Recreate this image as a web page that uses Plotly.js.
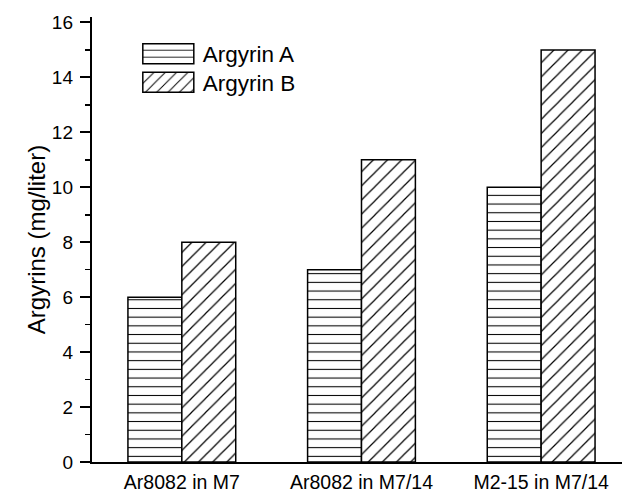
<!DOCTYPE html>
<html><head><meta charset="utf-8">
<script src="https://cdn.plot.ly/plotly-3.0.1.min.js"></script>
<style>html,body{margin:0;padding:0;background:#fff}</style>
</head><body>
<div id="chart" style="width:622px;height:492px"></div>
<script>
const categories = ["Ar8082 in M7", "Ar8082 in M7/14", "M2-15 in M7/14"];
const argyrinA = [6, 7, 10];
const argyrinB = [8, 11, 15];
const seriesNames = ["Argyrin A", "Argyrin B"];
const yTicks = [0, 2, 4, 6, 8, 10, 12, 14, 16];

const font = "Liberation Sans, Arial, Helvetica, sans-serif";
const traces = [
  {type: "bar", name: seriesNames[0], x: categories, y: argyrinA,
   marker: {color: "white", line: {color: "black", width: 1.5},
            pattern: {shape: "-", size: 8.7, solidity: 0.12, fgcolor: "black", bgcolor: "white", fillmode: "replace"}}},
  {type: "bar", name: seriesNames[1], x: categories, y: argyrinB,
   marker: {color: "white", line: {color: "black", width: 1.5},
            pattern: {shape: "/", size: 10, solidity: 0.12, fgcolor: "black", bgcolor: "white", fillmode: "replace"}}}
];
const layout = {
  width: 622, height: 492,
  margin: {l: 92, r: 0, t: 17, b: 30},
  paper_bgcolor: "white", plot_bgcolor: "white",
  font: {family: font, color: "black", size: 19},
  barmode: "group", bargap: 0.4, bargroupgap: 0,
  showlegend: true,
  legend: {x: 0.077, y: 0.965, xanchor: "left", yanchor: "top", bgcolor: "rgba(0,0,0,0)",
           font: {size: 22.5, family: font}, itemwidth: 60, tracegroupgap: 0},
  xaxis: {type: "category", range: [-0.5, 2.45], showline: true, linecolor: "black", linewidth: 1.5,
          ticks: "", showgrid: false, zeroline: false, tickfont: {size: 19.5}, ticklabelstandoff: 2},
  yaxis: {range: [0, 16.2], tickvals: yTicks, showline: true, linecolor: "black", linewidth: 2.2,
          ticks: "outside", ticklen: 10, tickwidth: 2, tickcolor: "black", showgrid: false, zeroline: false,
          tickfont: {size: 19}, ticklabelstandoff: 3,
          minor: {dtick: 1, ticks: "outside", ticklen: 5, tickwidth: 1.5, tickcolor: "black", showgrid: false},
          title: {text: "Argyrins (mg/liter)", font: {size: 24}, standoff: 0}}
};

function adjustLegend(gd) {
  const items = gd.querySelectorAll(".legend g.traces");
  let firstY = null;
  items.forEach(function (item, i) {
    const text = item.querySelector("text.legendtext");
    const pts = item.querySelector("g.legendpoints");
    if (!text || !pts) return;
    const tx = parseFloat(text.getAttribute("x")) || 40;
    pts.removeAttribute("transform");
    pts.querySelectorAll("g").forEach(function (g) { g.removeAttribute("transform"); });
    pts.querySelectorAll("path").forEach(function (p) {
      p.removeAttribute("transform");
      const x1 = tx - 9, x0 = x1 - 51;
      p.setAttribute("d", "M" + x0 + ",-10H" + x1 + "V10H" + x0 + "Z");
      p.style.strokeWidth = "1.5px";
    });
    const tr = item.getAttribute("transform") || "";
    const m = tr.match(/translate\(\s*([-\d.]+)[ ,]+([-\d.]+)\s*\)/);
    if (m) {
      const x = parseFloat(m[1]), y = parseFloat(m[2]);
      if (firstY === null) firstY = y;
      else item.setAttribute("transform", "translate(" + x + "," + (firstY + 28.5 * i) + ")");
    }
  });
}
Plotly.newPlot("chart", traces, layout, {displayModeBar: false, staticPlot: true}).then(function (gd) {
  adjustLegend(gd);
});
</script>
</body></html>
